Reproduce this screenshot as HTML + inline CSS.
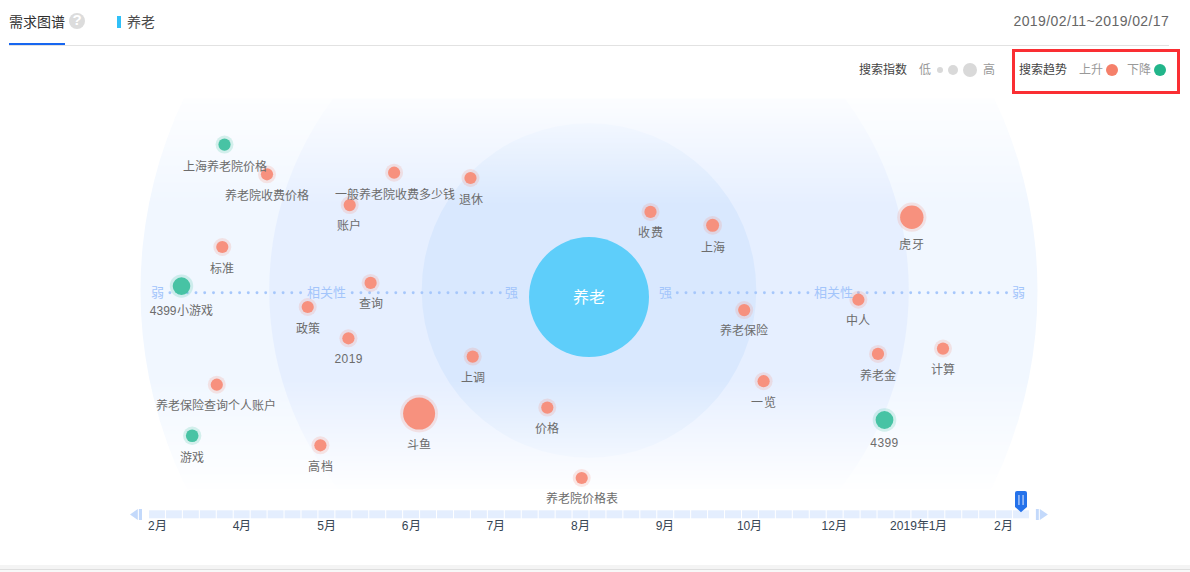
<!DOCTYPE html>
<html lang="zh-CN">
<head>
<meta charset="utf-8">
<title>需求图谱</title>
<style>
html,body{margin:0;padding:0;background:#fff;}
body{width:1190px;height:572px;position:relative;overflow:hidden;font-family:"Liberation Sans",sans-serif;color:#333;}
.abs{position:absolute;white-space:nowrap;}
.jt{text-align:justify;text-align-last:justify;}
.title{left:9px;top:12px;font-size:14px;line-height:20px;color:#2e2e2e;}
.help{left:69px;top:12.7px;width:16px;height:16px;border-radius:50%;background:#dcdcdc;color:#fff;font-size:15px;font-weight:bold;line-height:16px;text-align:center;}
.uline{left:9px;top:43px;width:56px;height:2px;background:#1766f0;}
.hline{left:9px;top:45px;width:1160px;height:1px;background:#e2e2e2;}
.kwbar{left:117px;top:16px;width:4px;height:12px;background:#30c0f8;}
.kw{left:127px;top:12px;font-size:14px;line-height:20px;color:#4a4a4a;}
.date{left:1013.5px;top:11px;font-size:14px;line-height:20px;color:#666;letter-spacing:0.4px;}
.lg{font-size:12px;line-height:16px;top:61.6px;}
.lgd{border-radius:50%;}
.redbox{left:1012px;top:49px;width:162px;height:39px;border:3px solid #fa2e33;}
.chart{position:absolute;left:0;top:0;}
.lb{position:absolute;white-space:nowrap;text-align:justify;text-align-last:justify;font-size:12px;line-height:14px;color:#6c6c6c;transform:translate(-50%,-50%);}
.ax{position:absolute;white-space:nowrap;text-align:justify;text-align-last:justify;font-size:13px;line-height:14px;color:#a3c5fb;transform:translate(-50%,-50%);}
.ctr{left:588.6px;top:297.8px;font-size:16px;line-height:18px;color:#fff;transform:translate(-50%,-50%);}
.mo{position:absolute;white-space:nowrap;text-align:justify;text-align-last:justify;top:519px;font-size:12px;line-height:14px;color:#364453;transform:translateX(-50%);}
.foot1{left:0;top:565px;width:1190px;height:4px;background:#f4f4f4;}
.foot2{left:0;top:569px;width:1190px;height:1px;background:#dedede;}
.foot3{left:0;top:570px;width:1190px;height:2px;background:#f8f8f8;}
</style>
</head>
<body>
<div class="abs jt title" style="width:56px">需求图谱</div>
<div class="abs help"><span style="position:relative;top:-0.6px">?</span></div>
<div class="abs hline"></div>
<div class="abs uline"></div>
<div class="abs kwbar"></div>
<div class="abs jt kw" style="width:28px">养老</div>
<div class="abs date">2019/02/11~2019/02/17</div>

<div class="abs jt lg" style="left:859px;width:48px;color:#444;">搜索指数</div>
<div class="abs jt lg" style="left:919px;width:12px;color:#999;">低</div>
<div class="abs lgd" style="left:937px;top:67px;width:6px;height:6px;background:#d9d9d9;"></div>
<div class="abs lgd" style="left:948px;top:65px;width:10px;height:10px;background:#d9d9d9;"></div>
<div class="abs lgd" style="left:963px;top:63px;width:14px;height:14px;background:#d9d9d9;"></div>
<div class="abs jt lg" style="left:983px;width:12px;color:#999;">高</div>
<div class="abs jt lg" style="left:1019px;width:48px;color:#444;">搜索趋势</div>
<div class="abs jt lg" style="left:1079px;width:24px;color:#999;">上升</div>
<div class="abs lgd" style="left:1106px;top:64px;width:12px;height:12px;background:#f5806a;"></div>
<div class="abs jt lg" style="left:1127px;width:24px;color:#999;">下降</div>
<div class="abs lgd" style="left:1154px;top:64px;width:12px;height:12px;background:#22b58a;"></div>
<div class="abs redbox"></div>

<svg class="chart" width="1190" height="572" viewBox="0 0 1190 572">
<defs>
<linearGradient id="fade" x1="0" y1="98.4" x2="0" y2="489" gradientUnits="userSpaceOnUse">
<stop offset="0" stop-color="#fff" stop-opacity="0.14"/>
<stop offset="0.2729" stop-color="#fff" stop-opacity="1"/>
<stop offset="0.7209" stop-color="#fff" stop-opacity="1"/>
<stop offset="1" stop-color="#fff" stop-opacity="0.06"/>
</linearGradient>
<mask id="vmask" maskUnits="userSpaceOnUse" x="0" y="98.4" width="1190" height="390.6">
<rect x="0" y="98.4" width="1190" height="390.6" fill="url(#fade)"/>
</mask>
</defs>
<g mask="url(#vmask)">
<circle cx="589.0" cy="290.5" r="448.5" fill="#f1f7ff"/>
<circle cx="589.0" cy="290.5" r="319.8" fill="#e6efff"/>
<circle cx="589.0" cy="290.5" r="167.3" fill="#d9e8fe"/>
</g>
<g fill="#a6c7fb">
<circle cx="169.9" cy="292.8" r="1.45"/><circle cx="178.6" cy="292.8" r="1.45"/><circle cx="187.3" cy="292.8" r="1.45"/><circle cx="196.0" cy="292.8" r="1.45"/><circle cx="204.7" cy="292.8" r="1.45"/><circle cx="213.5" cy="292.8" r="1.45"/><circle cx="222.2" cy="292.8" r="1.45"/><circle cx="230.9" cy="292.8" r="1.45"/><circle cx="239.6" cy="292.8" r="1.45"/><circle cx="248.3" cy="292.8" r="1.45"/><circle cx="257.0" cy="292.8" r="1.45"/><circle cx="265.7" cy="292.8" r="1.45"/><circle cx="274.4" cy="292.8" r="1.45"/><circle cx="283.1" cy="292.8" r="1.45"/><circle cx="291.8" cy="292.8" r="1.45"/><circle cx="300.6" cy="292.8" r="1.45"/>
<circle cx="352.2" cy="292.8" r="1.45"/><circle cx="360.9" cy="292.8" r="1.45"/><circle cx="369.6" cy="292.8" r="1.45"/><circle cx="378.3" cy="292.8" r="1.45"/><circle cx="387.0" cy="292.8" r="1.45"/><circle cx="395.8" cy="292.8" r="1.45"/><circle cx="404.5" cy="292.8" r="1.45"/><circle cx="413.2" cy="292.8" r="1.45"/><circle cx="421.9" cy="292.8" r="1.45"/><circle cx="430.6" cy="292.8" r="1.45"/><circle cx="439.3" cy="292.8" r="1.45"/><circle cx="448.0" cy="292.8" r="1.45"/><circle cx="456.7" cy="292.8" r="1.45"/><circle cx="465.4" cy="292.8" r="1.45"/><circle cx="474.1" cy="292.8" r="1.45"/><circle cx="482.9" cy="292.8" r="1.45"/><circle cx="491.6" cy="292.8" r="1.45"/><circle cx="500.3" cy="292.8" r="1.45"/>
<circle cx="677.3" cy="292.8" r="1.45"/><circle cx="686.0" cy="292.8" r="1.45"/><circle cx="694.7" cy="292.8" r="1.45"/><circle cx="703.4" cy="292.8" r="1.45"/><circle cx="712.1" cy="292.8" r="1.45"/><circle cx="720.8" cy="292.8" r="1.45"/><circle cx="729.6" cy="292.8" r="1.45"/><circle cx="738.3" cy="292.8" r="1.45"/><circle cx="747.0" cy="292.8" r="1.45"/><circle cx="755.7" cy="292.8" r="1.45"/><circle cx="764.4" cy="292.8" r="1.45"/><circle cx="773.1" cy="292.8" r="1.45"/><circle cx="781.8" cy="292.8" r="1.45"/><circle cx="790.5" cy="292.8" r="1.45"/><circle cx="799.2" cy="292.8" r="1.45"/><circle cx="807.9" cy="292.8" r="1.45"/>
<circle cx="858.4" cy="292.8" r="1.45"/><circle cx="867.1" cy="292.8" r="1.45"/><circle cx="875.8" cy="292.8" r="1.45"/><circle cx="884.5" cy="292.8" r="1.45"/><circle cx="893.2" cy="292.8" r="1.45"/><circle cx="901.9" cy="292.8" r="1.45"/><circle cx="910.7" cy="292.8" r="1.45"/><circle cx="919.4" cy="292.8" r="1.45"/><circle cx="928.1" cy="292.8" r="1.45"/><circle cx="936.8" cy="292.8" r="1.45"/><circle cx="945.5" cy="292.8" r="1.45"/><circle cx="954.2" cy="292.8" r="1.45"/><circle cx="962.9" cy="292.8" r="1.45"/><circle cx="971.6" cy="292.8" r="1.45"/><circle cx="980.3" cy="292.8" r="1.45"/><circle cx="989.0" cy="292.8" r="1.45"/><circle cx="997.8" cy="292.8" r="1.45"/><circle cx="1006.5" cy="292.8" r="1.45"/>
</g>
<circle cx="589" cy="297.1" r="60" fill="#5ecefa"/>
<circle cx="224.5" cy="144.6" r="9.0" fill="#42c1a0" fill-opacity="0.2"/><circle cx="224.5" cy="144.6" r="6.1" fill="#42c1a0" fill-opacity="0.96"/>
<circle cx="267.0" cy="174.3" r="9.0" fill="#f78e7a" fill-opacity="0.2"/><circle cx="267.0" cy="174.3" r="6.1" fill="#f78e7a" fill-opacity="0.96"/>
<circle cx="394.1" cy="172.7" r="9.0" fill="#f78e7a" fill-opacity="0.2"/><circle cx="394.1" cy="172.7" r="6.1" fill="#f78e7a" fill-opacity="0.96"/>
<circle cx="470.5" cy="178.0" r="9.0" fill="#f78e7a" fill-opacity="0.2"/><circle cx="470.5" cy="178.0" r="6.1" fill="#f78e7a" fill-opacity="0.96"/>
<circle cx="349.7" cy="205.1" r="9.0" fill="#f78e7a" fill-opacity="0.2"/><circle cx="349.7" cy="205.1" r="6.1" fill="#f78e7a" fill-opacity="0.96"/>
<circle cx="222.3" cy="247.0" r="9.0" fill="#f78e7a" fill-opacity="0.2"/><circle cx="222.3" cy="247.0" r="6.1" fill="#f78e7a" fill-opacity="0.96"/>
<circle cx="181.5" cy="286.1" r="11.7" fill="#42c1a0" fill-opacity="0.2"/><circle cx="181.5" cy="286.1" r="8.8" fill="#42c1a0" fill-opacity="0.96"/>
<circle cx="370.6" cy="282.9" r="9.0" fill="#f78e7a" fill-opacity="0.2"/><circle cx="370.6" cy="282.9" r="6.1" fill="#f78e7a" fill-opacity="0.96"/>
<circle cx="307.7" cy="307.0" r="9.0" fill="#f78e7a" fill-opacity="0.2"/><circle cx="307.7" cy="307.0" r="6.1" fill="#f78e7a" fill-opacity="0.96"/>
<circle cx="348.4" cy="338.3" r="9.0" fill="#f78e7a" fill-opacity="0.2"/><circle cx="348.4" cy="338.3" r="6.1" fill="#f78e7a" fill-opacity="0.96"/>
<circle cx="472.7" cy="356.6" r="9.0" fill="#f78e7a" fill-opacity="0.2"/><circle cx="472.7" cy="356.6" r="6.1" fill="#f78e7a" fill-opacity="0.96"/>
<circle cx="216.8" cy="384.7" r="9.0" fill="#f78e7a" fill-opacity="0.2"/><circle cx="216.8" cy="384.7" r="6.1" fill="#f78e7a" fill-opacity="0.96"/>
<circle cx="192.2" cy="435.7" r="9.2" fill="#42c1a0" fill-opacity="0.2"/><circle cx="192.2" cy="435.7" r="6.3" fill="#42c1a0" fill-opacity="0.96"/>
<circle cx="320.4" cy="445.3" r="9.0" fill="#f78e7a" fill-opacity="0.2"/><circle cx="320.4" cy="445.3" r="6.1" fill="#f78e7a" fill-opacity="0.96"/>
<circle cx="419.1" cy="413.6" r="18.9" fill="#f78e7a" fill-opacity="0.2"/><circle cx="419.1" cy="413.6" r="16.0" fill="#f78e7a" fill-opacity="0.96"/>
<circle cx="547.3" cy="407.6" r="9.0" fill="#f78e7a" fill-opacity="0.2"/><circle cx="547.3" cy="407.6" r="6.1" fill="#f78e7a" fill-opacity="0.96"/>
<circle cx="581.7" cy="478.0" r="9.0" fill="#f78e7a" fill-opacity="0.2"/><circle cx="581.7" cy="478.0" r="6.1" fill="#f78e7a" fill-opacity="0.96"/>
<circle cx="650.5" cy="211.9" r="9.0" fill="#f78e7a" fill-opacity="0.2"/><circle cx="650.5" cy="211.9" r="6.1" fill="#f78e7a" fill-opacity="0.96"/>
<circle cx="712.6" cy="225.3" r="9.4" fill="#f78e7a" fill-opacity="0.2"/><circle cx="712.6" cy="225.3" r="6.5" fill="#f78e7a" fill-opacity="0.96"/>
<circle cx="911.8" cy="217.2" r="14.6" fill="#f78e7a" fill-opacity="0.2"/><circle cx="911.8" cy="217.2" r="11.7" fill="#f78e7a" fill-opacity="0.96"/>
<circle cx="744.2" cy="310.1" r="9.0" fill="#f78e7a" fill-opacity="0.2"/><circle cx="744.2" cy="310.1" r="6.1" fill="#f78e7a" fill-opacity="0.96"/>
<circle cx="858.4" cy="299.7" r="9.0" fill="#f78e7a" fill-opacity="0.2"/><circle cx="858.4" cy="299.7" r="6.1" fill="#f78e7a" fill-opacity="0.96"/>
<circle cx="878.0" cy="353.9" r="9.0" fill="#f78e7a" fill-opacity="0.2"/><circle cx="878.0" cy="353.9" r="6.1" fill="#f78e7a" fill-opacity="0.96"/>
<circle cx="943.0" cy="348.6" r="9.0" fill="#f78e7a" fill-opacity="0.2"/><circle cx="943.0" cy="348.6" r="6.1" fill="#f78e7a" fill-opacity="0.96"/>
<circle cx="763.6" cy="381.2" r="9.0" fill="#f78e7a" fill-opacity="0.2"/><circle cx="763.6" cy="381.2" r="6.1" fill="#f78e7a" fill-opacity="0.96"/>
<circle cx="884.5" cy="420.0" r="11.8" fill="#42c1a0" fill-opacity="0.2"/><circle cx="884.5" cy="420.0" r="8.9" fill="#42c1a0" fill-opacity="0.96"/>
</svg>
<div class="abs jt ctr" style="width:32px">养老</div>
<div class="ax" style="left:157.8px;top:292.9px;width:13.02px">弱</div>
<div class="ax" style="left:326.3px;top:292.9px;width:39.02px">相关性</div>
<div class="ax" style="left:511.8px;top:292.9px;width:13.02px">强</div>
<div class="ax" style="left:665.2px;top:292.9px;width:13.02px">强</div>
<div class="ax" style="left:833.4px;top:292.9px;width:39.02px">相关性</div>
<div class="ax" style="left:1018.8px;top:292.9px;width:13.02px">弱</div>
<div class="lb" style="left:224.6px;top:166.8px;width:84.02px">上海养老院价格</div>
<div class="lb" style="left:267.0px;top:195.8px;width:84.02px">养老院收费价格</div>
<div class="lb" style="left:394.7px;top:194.7px;width:120.02px">一般养老院收费多少钱</div>
<div class="lb" style="left:470.6px;top:199.8px;width:24.02px">退休</div>
<div class="lb" style="left:349.4px;top:226.3px;width:24.02px">账户</div>
<div class="lb" style="left:222.4px;top:268.5px;width:24.02px">标准</div>
<div class="lb" style="left:181.2px;top:310.8px;width:62.71px">4399小游戏</div>
<div class="lb" style="left:371.0px;top:304.1px;width:24.02px">查询</div>
<div class="lb" style="left:307.9px;top:328.6px;width:24.02px">政策</div>
<div class="lb" style="left:348.7px;top:358.8px;letter-spacing:0.4px">2019</div>
<div class="lb" style="left:472.7px;top:377.8px;width:24.02px">上调</div>
<div class="lb" style="left:216.3px;top:406.3px;width:120.02px">养老保险查询个人账户</div>
<div class="lb" style="left:192.1px;top:457.6px;width:24.02px">游戏</div>
<div class="lb" style="left:320.5px;top:467.2px;width:24.02px">高档</div>
<div class="lb" style="left:418.8px;top:444.5px;width:24.02px">斗鱼</div>
<div class="lb" style="left:547.2px;top:428.5px;width:24.02px">价格</div>
<div class="lb" style="left:581.7px;top:499.4px;width:72.02px">养老院价格表</div>
<div class="lb" style="left:650.5px;top:233.4px;width:24.02px">收费</div>
<div class="lb" style="left:712.6px;top:247.9px;width:24.02px">上海</div>
<div class="lb" style="left:911.5px;top:244.5px;width:24.02px">虎牙</div>
<div class="lb" style="left:743.9px;top:331.3px;width:48.02px">养老保险</div>
<div class="lb" style="left:858.4px;top:321.4px;width:24.02px">中人</div>
<div class="lb" style="left:877.8px;top:375.9px;width:36.02px">养老金</div>
<div class="lb" style="left:943.0px;top:369.8px;width:24.02px">计算</div>
<div class="lb" style="left:763.5px;top:402.6px;width:24.02px">一览</div>
<div class="lb" style="left:884.5px;top:442.5px;letter-spacing:0.4px">4399</div>

<svg class="chart" width="1190" height="572" viewBox="0 0 1190 572">
<rect x="149.00" y="510.3" width="15.94" height="8" fill="#e4eefe"/>
<rect x="165.94" y="510.3" width="15.94" height="8" fill="#e4eefe"/>
<rect x="182.88" y="510.3" width="15.94" height="8" fill="#e4eefe"/>
<rect x="199.83" y="510.3" width="15.94" height="8" fill="#e4eefe"/>
<rect x="216.77" y="510.3" width="15.94" height="8" fill="#e4eefe"/>
<rect x="233.71" y="510.3" width="15.94" height="8" fill="#e4eefe"/>
<rect x="250.65" y="510.3" width="15.94" height="8" fill="#e4eefe"/>
<rect x="267.60" y="510.3" width="15.94" height="8" fill="#e4eefe"/>
<rect x="284.54" y="510.3" width="15.94" height="8" fill="#e4eefe"/>
<rect x="301.48" y="510.3" width="15.94" height="8" fill="#e4eefe"/>
<rect x="318.42" y="510.3" width="15.94" height="8" fill="#e4eefe"/>
<rect x="335.37" y="510.3" width="15.94" height="8" fill="#e4eefe"/>
<rect x="352.31" y="510.3" width="15.94" height="8" fill="#e4eefe"/>
<rect x="369.25" y="510.3" width="15.94" height="8" fill="#e4eefe"/>
<rect x="386.19" y="510.3" width="15.94" height="8" fill="#e4eefe"/>
<rect x="403.13" y="510.3" width="15.94" height="8" fill="#e4eefe"/>
<rect x="420.08" y="510.3" width="15.94" height="8" fill="#e4eefe"/>
<rect x="437.02" y="510.3" width="15.94" height="8" fill="#e4eefe"/>
<rect x="453.96" y="510.3" width="15.94" height="8" fill="#e4eefe"/>
<rect x="470.90" y="510.3" width="15.94" height="8" fill="#e4eefe"/>
<rect x="487.85" y="510.3" width="15.94" height="8" fill="#e4eefe"/>
<rect x="504.79" y="510.3" width="15.94" height="8" fill="#e4eefe"/>
<rect x="521.73" y="510.3" width="15.94" height="8" fill="#e4eefe"/>
<rect x="538.67" y="510.3" width="15.94" height="8" fill="#e4eefe"/>
<rect x="555.62" y="510.3" width="15.94" height="8" fill="#e4eefe"/>
<rect x="572.56" y="510.3" width="15.94" height="8" fill="#e4eefe"/>
<rect x="589.50" y="510.3" width="15.94" height="8" fill="#e4eefe"/>
<rect x="606.44" y="510.3" width="15.94" height="8" fill="#e4eefe"/>
<rect x="623.38" y="510.3" width="15.94" height="8" fill="#e4eefe"/>
<rect x="640.33" y="510.3" width="15.94" height="8" fill="#e4eefe"/>
<rect x="657.27" y="510.3" width="15.94" height="8" fill="#e4eefe"/>
<rect x="674.21" y="510.3" width="15.94" height="8" fill="#e4eefe"/>
<rect x="691.15" y="510.3" width="15.94" height="8" fill="#e4eefe"/>
<rect x="708.10" y="510.3" width="15.94" height="8" fill="#e4eefe"/>
<rect x="725.04" y="510.3" width="15.94" height="8" fill="#e4eefe"/>
<rect x="741.98" y="510.3" width="15.94" height="8" fill="#e4eefe"/>
<rect x="758.92" y="510.3" width="15.94" height="8" fill="#e4eefe"/>
<rect x="775.87" y="510.3" width="15.94" height="8" fill="#e4eefe"/>
<rect x="792.81" y="510.3" width="15.94" height="8" fill="#e4eefe"/>
<rect x="809.75" y="510.3" width="15.94" height="8" fill="#e4eefe"/>
<rect x="826.69" y="510.3" width="15.94" height="8" fill="#e4eefe"/>
<rect x="843.63" y="510.3" width="15.94" height="8" fill="#e4eefe"/>
<rect x="860.58" y="510.3" width="15.94" height="8" fill="#e4eefe"/>
<rect x="877.52" y="510.3" width="15.94" height="8" fill="#e4eefe"/>
<rect x="894.46" y="510.3" width="15.94" height="8" fill="#e4eefe"/>
<rect x="911.40" y="510.3" width="15.94" height="8" fill="#e4eefe"/>
<rect x="928.35" y="510.3" width="15.94" height="8" fill="#e4eefe"/>
<rect x="945.29" y="510.3" width="15.94" height="8" fill="#e4eefe"/>
<rect x="962.23" y="510.3" width="15.94" height="8" fill="#e4eefe"/>
<rect x="979.17" y="510.3" width="15.94" height="8" fill="#e4eefe"/>
<rect x="996.12" y="510.3" width="15.94" height="8" fill="#e4eefe"/>
<rect x="1013.06" y="510.3" width="15.94" height="8" fill="#e4eefe"/>
<g fill="#c3d9fb">
<path d="M130 514.5 L137.8 509 L137.8 520 Z"/><rect x="138.9" y="509" width="3.1" height="11"/>
<path d="M1047.9 514.5 L1039.8 509 L1039.8 520 Z"/><rect x="1035.9" y="509" width="2.9" height="11"/>
</g>
<path d="M1015 493 a2 2 0 0 1 2 -2 h8 a2 2 0 0 1 2 2 v13.9 l-6 5.3 l-6 -5.3 Z" fill="#2572ea"/>
<rect x="1018" y="495" width="1.8" height="10" fill="#8fb6f5"/><rect x="1022.2" y="495" width="1.8" height="10" fill="#8fb6f5"/>
</svg>
<div class="mo" style="left:157.4px;width:18.69px">2月</div>
<div class="mo" style="left:242.0px;width:18.69px">4月</div>
<div class="mo" style="left:326.6px;width:18.69px">5月</div>
<div class="mo" style="left:411.2px;width:18.69px">6月</div>
<div class="mo" style="left:495.8px;width:18.69px">7月</div>
<div class="mo" style="left:580.4px;width:18.69px">8月</div>
<div class="mo" style="left:665.0px;width:18.69px">9月</div>
<div class="mo" style="left:749.6px;width:25.36px">10月</div>
<div class="mo" style="left:834.2px;width:25.36px">12月</div>
<div class="mo" style="left:918.8px;width:57.38px">2019年1月</div>
<div class="mo" style="left:1003.4px;width:18.69px">2月</div>
<div class="abs foot1"></div><div class="abs foot2"></div><div class="abs foot3"></div>
</body>
</html>
